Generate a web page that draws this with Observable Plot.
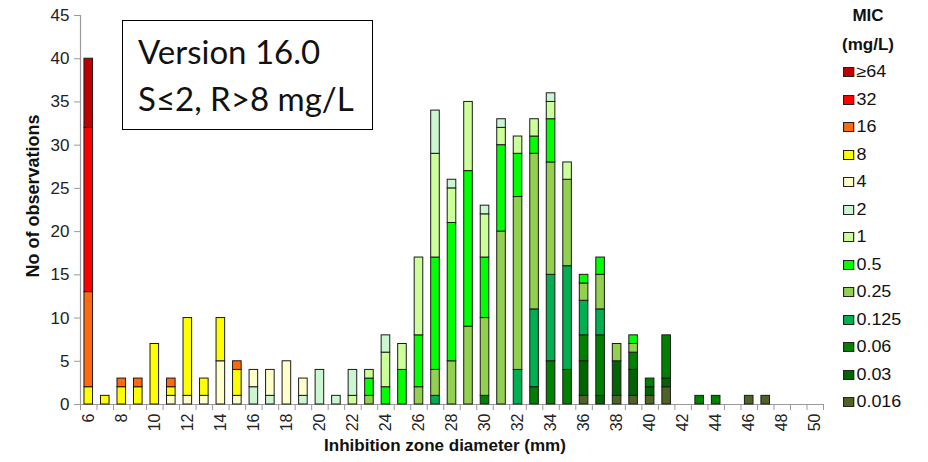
<!DOCTYPE html>
<html>
<head>
<meta charset="utf-8">
<script src="https://cdn.jsdelivr.net/npm/d3@7"></script>
<script src="https://cdn.jsdelivr.net/npm/@observablehq/plot@0.6"></script>
<style>
  body { margin: 0; background: #fff; }
  #wrap { position: relative; width: 928px; height: 462px; font-family: "Liberation Sans", Arial, sans-serif; }
  #box { position: absolute; left: 122px; top: 20px; width: 251px; height: 110px; border: 1.5px solid #000;
         font-family: Lato, "Open Sans", sans-serif; font-size: 33px; line-height: 47px; color: #111; box-sizing: border-box; padding: 7px 0 0 15px; }
  #legend { position: absolute; left: 820px; top: 0px; width: 100px; color: #111; }
  #legend .title { position: absolute; left: 0; top: 1px; font-weight: bold; font-size: 17px; text-align: center; width: 96px; line-height: 29px; }
  #legend .item { position: absolute; left: 23px; height: 20px; font-size: 16px; line-height: 20px; white-space: nowrap; transform-origin: left center; transform: scaleX(1.12); }
  #legend .sw { display: inline-block; width: 8px; height: 8px; border: 1px solid #222; margin-right: 2px; vertical-align: 0px; }
</style>
</head>
<body>
<div id="wrap"></div>
<script>
// MIC classes (legend order, highest first) and their colours
const micLabels = ["≥64", "32", "16", "8", "4", "2", "1", "0.5", "0.25", "0.125", "0.06", "0.03", "0.016"];
const micColors = ["#C00000", "#FF0000", "#FF6A10", "#FFFF00", "#FFFFCC", "#CCF5D2", "#CCFF99", "#00FF00", "#92D050", "#00B050", "#008000", "#006400", "#4F6228"];

// counts per MIC class: [inhibition zone diameter (mm), number of observations]
const mic_ge64 = [[6, 8]];
const mic_32 = [[6, 19]];
const mic_16 = [[6, 11], [8, 1], [9, 1], [11, 1], [15, 1]];
const mic_8 = [[6, 2], [7, 1], [8, 2], [9, 2], [10, 7], [11, 1], [12, 9], [13, 2], [14, 5], [15, 3]];
const mic_4 = [[11, 1], [12, 1], [13, 1], [14, 5], [15, 1], [16, 2], [17, 3], [18, 5], [19, 2]];
const mic_2 = [[16, 2], [17, 1], [19, 1], [20, 4], [21, 1], [22, 3], [24, 2], [27, 5], [28, 1], [30, 1], [31, 1], [34, 1]];
const mic_1 = [[22, 1], [23, 1], [24, 4], [25, 3], [26, 9], [27, 12], [28, 4], [29, 8], [30, 5], [31, 2], [32, 2], [33, 2], [34, 2], [35, 2]];
const mic_05 = [[23, 2], [24, 2], [25, 4], [26, 6], [27, 13], [28, 16], [29, 18], [30, 7], [31, 10], [32, 5], [33, 2], [34, 5], [36, 1], [37, 2], [39, 1]];
const mic_025 = [[23, 1], [26, 2], [27, 3], [28, 5], [29, 9], [30, 9], [31, 20], [32, 20], [33, 18], [34, 13], [35, 10], [36, 2], [37, 4], [38, 2], [39, 1]];
const mic_0125 = [[27, 1], [32, 4], [33, 9], [34, 10], [35, 12], [36, 4], [37, 3]];
const mic_006 = [[30, 1], [33, 2], [34, 5], [35, 4], [36, 3], [37, 7], [39, 2], [40, 1], [41, 5], [43, 1], [44, 1]];
const mic_003 = [[36, 4], [37, 1], [38, 4], [39, 3], [40, 1], [41, 1]];
const mic_0016 = [[36, 1], [38, 1], [39, 1], [40, 1], [41, 2], [46, 1], [47, 1]];

const seriesByMic = {
  "≥64": mic_ge64, "32": mic_32, "16": mic_16, "8": mic_8, "4": mic_4, "2": mic_2, "1": mic_1,
  "0.5": mic_05, "0.25": mic_025, "0.125": mic_0125, "0.06": mic_006, "0.03": mic_003, "0.016": mic_0016
};

// tick values
const xTickLabels = d3.range(6, 51, 2);
const yTicks = d3.range(0, 46, 5);

// build stacked rows: lowest MIC at the bottom
const stackOrder = micLabels.slice().reverse();
const rows = [];
const base = new Map();
for (const mic of stackOrder) {
  for (const [d, n] of seriesByMic[mic]) {
    const y1 = base.get(d) || 0;
    rows.push({d, mic, n, y1, y2: y1 + n});
    base.set(d, y1 + n);
  }
}
const half = 0.26;

const chart = Plot.plot({
  width: 928,
  height: 462,
  marginLeft: 80,
  marginRight: 105,
  marginTop: 15,
  marginBottom: 58,
  style: {fontFamily: "'Liberation Sans', Arial, sans-serif", fontSize: "15px", color: "#111", background: "#fff"},
  x: {domain: [5.5, 50.5]},
  y: {domain: [0, 45]},
  color: {domain: micLabels, range: micColors},
  marks: [
    Plot.ruleX([5.5], {stroke: "#9a9a9a", strokeWidth: 1.2}),
    Plot.ruleY([0], {stroke: "#9a9a9a", strokeWidth: 1.2}),
    Plot.rect(rows, {x1: r => r.d - half, x2: r => r.d + half, y1: "y1", y2: "y2", fill: "mic", stroke: "#1a1a1a", strokeWidth: 1}),
    Plot.axisY({ticks: yTicks, tickSize: 6, tickPadding: 5, stroke: "#9a9a9a", fill: "#222", fontSize: 17, label: null}),
    Plot.axisX({ticks: d3.range(5.5, 51, 1), tickSize: 6, tickFormat: () => "", stroke: "#9a9a9a", label: null}),
    Plot.axisX({ticks: xTickLabels, tickSize: 0, tickRotate: -90, tickPadding: 9, fill: "#222", fontSize: 16, label: null}),
    Plot.text(["Inhibition zone diameter (mm)"], {frameAnchor: "bottom", dy: 46, dx: -7, fontWeight: "bold", fontSize: 17, fill: "#111"}),
    Plot.text(["No of observations"], {frameAnchor: "left", textAnchor: "middle", dx: -47, dy: -14, rotate: -90, fontWeight: "bold", fontSize: 18, fill: "#111"})
  ]
});

const wrap = document.getElementById("wrap");
wrap.appendChild(chart);

// annotation box
const box = document.createElement("div");
box.id = "box";
box.innerHTML = "Version 16.0<br>S≤2, R>8 mg/L";
wrap.appendChild(box);

// legend
const legend = document.createElement("div");
legend.id = "legend";
legend.innerHTML = '<div class="title">MIC<br>(mg/L)</div>';
micLabels.forEach((m, i) => {
  const it = document.createElement("div");
  it.className = "item";
  it.style.top = (62 + i * 27.5) + "px";
  it.innerHTML = `<span class="sw" style="background:${micColors[i]}"></span>${m}`;
  legend.appendChild(it);
});
wrap.appendChild(legend);
</script>
</body>
</html>
